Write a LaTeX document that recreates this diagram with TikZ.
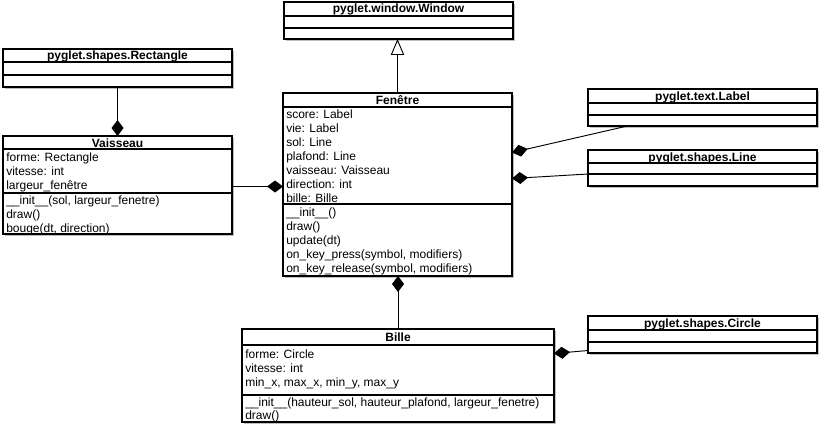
\documentclass[tikz,border=0pt]{standalone}
\usepackage{fontspec}
\setmainfont{Liberation Sans}
\usetikzlibrary{arrows.meta,shadows}
\def\px{0.75pt}
\tikzset{
  box/.style={draw=black, line width=0.8pt, fill=white, inner sep=0pt, outer sep=0pt,
    anchor=north west, drop shadow={shadow xshift=1.2pt, shadow yshift=-1.2pt, fill=black, opacity=0.25}},
  sepline/.style={line width=0.8pt},
  title/.style={font=\fontsize{9}{10.5}\selectfont\bfseries, inner sep=0pt, anchor=base},
  entry/.style={font=\fontsize{9}{10.5}\selectfont, inner sep=0pt, anchor=base west},
  comp/.style={line width=0.7pt, -{Diamond[length=12pt, width=9pt]}},
  gen/.style={line width=0.7pt, -{Triangle[open, length=12pt, width=10pt, fill=white]}},
}
% #1 name, #2 x, #3 y, #4 w, #5 h
\newcommand\classbox[5]{\node[box, minimum width=#4*\px, minimum height=#5*\px] (#1) at (#2,#3) {};}
% #1 name, #2 offset from top
\newcommand\sepat[2]{\draw[sepline] ([yshift=-#2*\px]#1.north west) -- ([yshift=-#2*\px]#1.north east);}
% #1 name, #2 baseline offset, #3 text
\newcommand\titleat[3]{\node[title] (#1-t) at ([yshift=-#2*\px]#1.north) {#3};}
% #1 name, #2 id, #3 baseline offset, #4 text
\newcommand\entryat[4]{\node[entry] (#1-#2) at ([xshift=3*\px, yshift=-#3*\px]#1.north west) {#4};}
\begin{document}
\begin{tikzpicture}[x=0.75pt, y=-0.75pt]
\useasboundingbox (0,0) rectangle (823,428);

% pyglet.window.Window
\classbox{win}{284}{2}{229}{37}
\sepat{win}{14}\sepat{win}{26}
\titleat{win}{11}{pyglet.window.Window}

% pyglet.shapes.Rectangle
\classbox{rect}{3}{49}{229}{38}
\sepat{rect}{13}\sepat{rect}{26}
\titleat{rect}{11}{pyglet.shapes.Rectangle}

% pyglet.text.Label
\classbox{lab}{588}{89}{229}{37}
\sepat{lab}{14}\sepat{lab}{26}
\titleat{lab}{11}{pyglet.text.Label}

% pyglet.shapes.Line
\classbox{lin}{588}{150}{229}{36}
\sepat{lin}{13}\sepat{lin}{24}
\titleat{lin}{11}{pyglet.shapes.Line}

% pyglet.shapes.Circle
\classbox{cir}{588}{316}{229}{37}
\sepat{cir}{14}\sepat{cir}{26}
\titleat{cir}{11}{pyglet.shapes.Circle}

% Vaisseau
\classbox{vai}{3}{136}{229}{98}
\sepat{vai}{13}\sepat{vai}{57}
\titleat{vai}{11}{Vaisseau}
\entryat{vai}{a1}{25}{forme: Rectangle}
\entryat{vai}{a2}{39}{vitesse: int}
\entryat{vai}{a3}{53}{largeur\_fenêtre}
\entryat{vai}{m1}{68}{\_\_init\_\_(sol, largeur\_fenetre)}
\entryat{vai}{m2}{82}{draw()}
\entryat{vai}{m3}{96}{bouge(dt, direction)}

% Fenetre
\classbox{fen}{283}{93}{229}{183}
\sepat{fen}{14}\sepat{fen}{111}
\titleat{fen}{11}{Fenêtre}
\entryat{fen}{a1}{25}{score: Label}
\entryat{fen}{a2}{39}{vie: Label}
\entryat{fen}{a3}{53}{sol: Line}
\entryat{fen}{a4}{67}{plafond: Line}
\entryat{fen}{a5}{81}{vaisseau: Vaisseau}
\entryat{fen}{a6}{95}{direction: int}
\entryat{fen}{a7}{109}{bille: Bille}
\entryat{fen}{m1}{123}{\_\_init\_\_()}
\entryat{fen}{m2}{137}{draw()}
\entryat{fen}{m3}{151}{update(dt)}
\entryat{fen}{m4}{165}{on\_key\_press(symbol, modifiers)}
\entryat{fen}{m5}{179}{on\_key\_release(symbol, modifiers)}

% Bille
\classbox{bil}{242}{329}{312}{93}
\sepat{bil}{16}\sepat{bil}{66}
\titleat{bil}{12}{Bille}
\entryat{bil}{a1}{29}{forme: Circle}
\entryat{bil}{a2}{43}{vitesse: int}
\entryat{bil}{a3}{57}{min\_x, max\_x, min\_y, max\_y}
\entryat{bil}{m1}{77}{\_\_init\_\_(hauteur\_sol, hauteur\_plafond, largeur\_fenetre)}
\entryat{bil}{m2}{90}{draw()}

% connectors
\draw[gen] (fen.north) -- (fen.north |- win.south);
\draw[comp] (rect.south) -- (rect.south |- vai.north);
\draw[comp] ([yshift=-1.5*\px]vai.east) -- ([yshift=-1.5*\px]vai.east -| fen.west);
\draw[comp] ([xshift=-75*\px]lab.south) -- ([yshift=32*\px]fen.east);
\draw[comp] ([yshift=-6*\px]lin.west) -- ([yshift=6*\px]fen.east);
\draw[comp] (bil.north) -- (bil.north |- fen.south);
\draw[comp] ([yshift=-16*\px]cir.west) -- ([yshift=22*\px]bil.east);
\end{tikzpicture}
\end{document}
